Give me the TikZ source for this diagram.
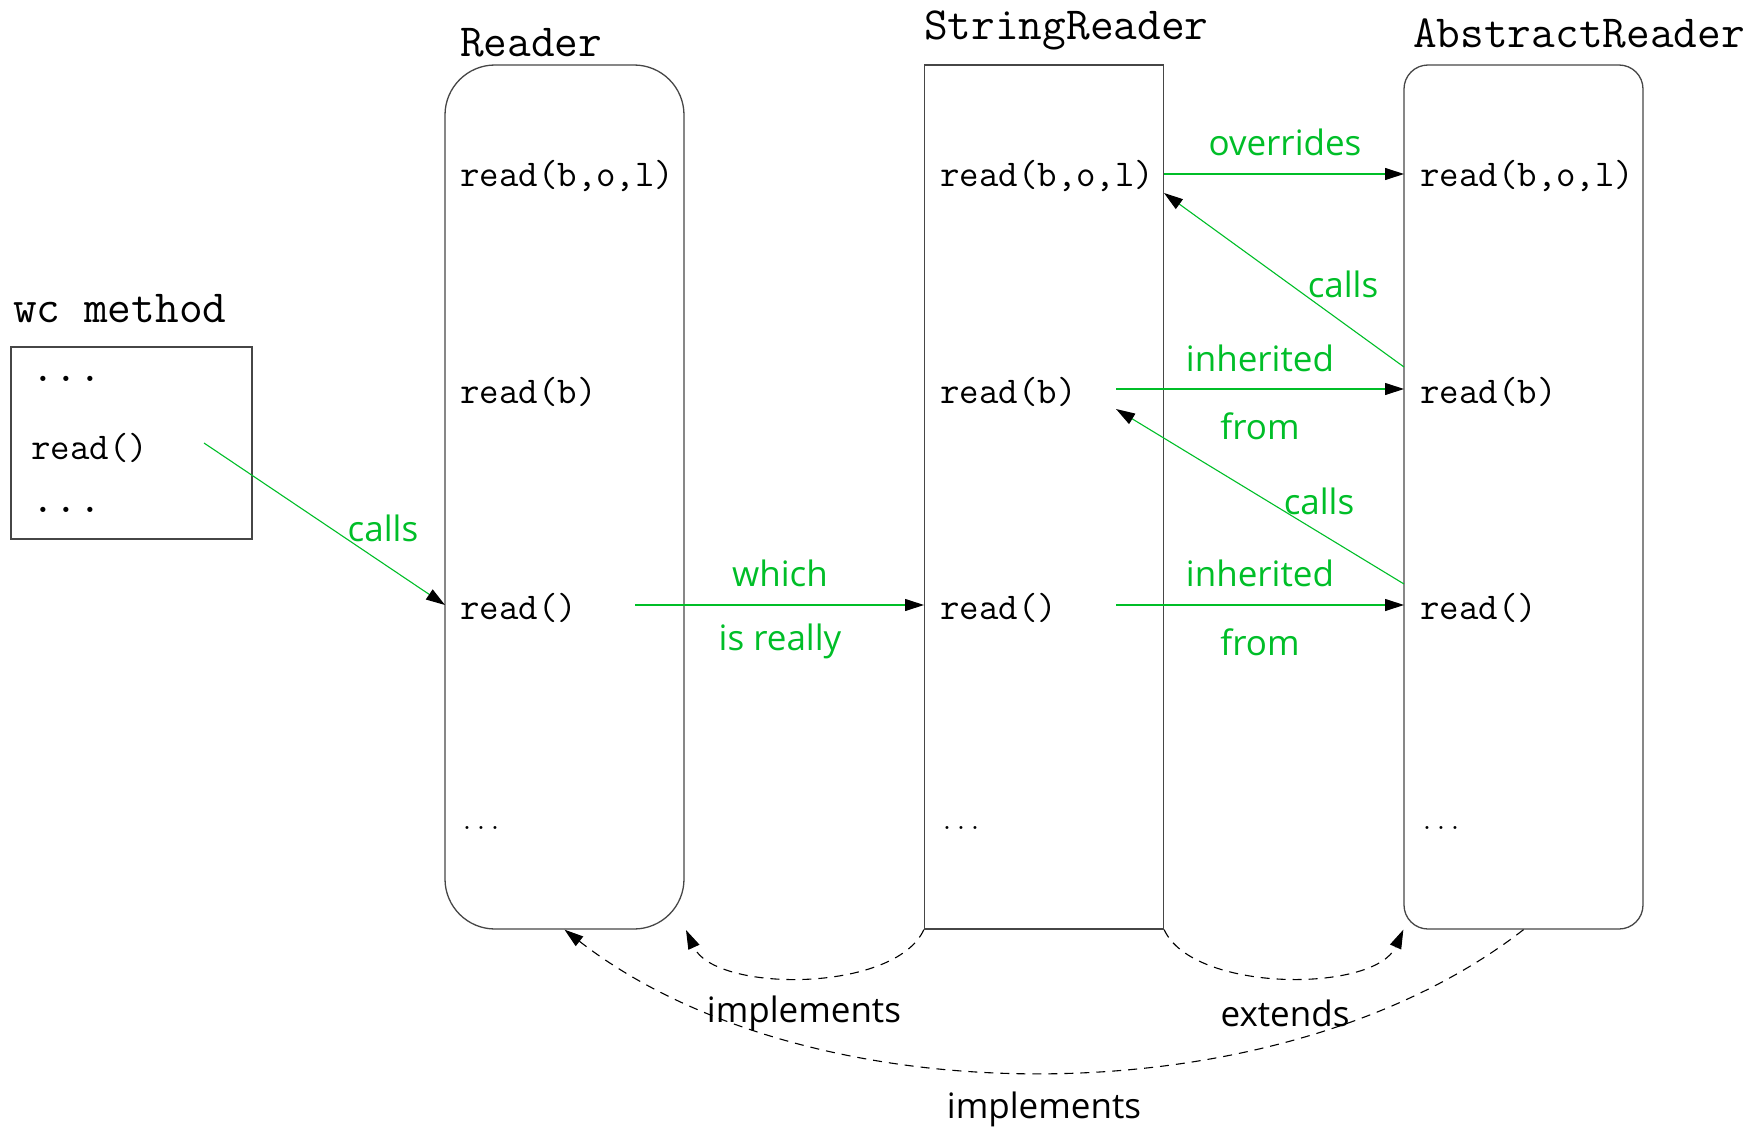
\documentclass[tikz,border=0pt]{standalone}
\usepackage{fontspec}
\setsansfont{Open Sans}
\usetikzlibrary{arrows.meta}
\definecolor{callgreen}{RGB}{0,190,40}
\definecolor{boxgray}{RGB}{70,70,70}

\begin{document}
\begin{tikzpicture}[x=1pt,y=-1pt,
  classbox/.style={draw=boxgray, line width=1.3pt, minimum width=239pt, minimum height=864pt, inner sep=0pt},
  titletext/.style={font=\fontsize{46}{52}\selectfont\ttfamily, anchor=base west, inner sep=0pt},
  codetext/.style={font=\fontsize{37.8}{44}\selectfont\ttfamily, anchor=west, inner sep=0pt},
  dotstext/.style={font=\fontsize{27}{30}\selectfont\ttfamily, anchor=base west, inner sep=0pt},
  greenlbl/.style={font=\fontsize{35}{40}\selectfont\sffamily, text=callgreen, inner sep=0pt},
  rellbl/.style={font=\fontsize{35}{40}\selectfont\sffamily, inner sep=0pt},
  headtip/.style={-{Triangle[length=19pt,width=12pt,black]}},
  msgarrow/.style={headtip, draw=callgreen, line width=1.1pt},
  deparrow/.style={headtip, dash pattern=on 9pt off 7pt, line width=1.1pt},
]
\useasboundingbox (0,0) rectangle (1756,1129);

% caller
\node[draw=boxgray, line width=1.3pt, minimum width=241pt, minimum height=192pt, inner sep=0pt] (wc) at (131.5,443) {};
\node[titletext] (wctitle) at (13,322) {wc method};
\node[titletext] (wcdots1) at (31,381) {...};
\node[codetext] (wcread) at (31,448) {read()};
\node[titletext] (wcdots2) at (31,512) {...};

% the three classes
\node[classbox, rounded corners=50pt] (rd) at (564.5,497) {};
\node[classbox] (sr) at (1044,497) {};
\node[classbox, rounded corners=24pt] (ab) at (1523.5,497) {};

\node[titletext] (rdtitle) at (460,57) {Reader};
\node[titletext] (srtitle) at (924,40) {StringReader};
\node[titletext] (abtitle) at (1413,48) {AbstractReader};

\node[codetext] (rdbol) at (460,176) {read(b,o,l)};
\node[codetext] (rdb)   at (460,392) {read(b)};
\node[codetext] (rdr)   at (460,608) {read()};
\node[dotstext] (rddots) at (460,829) {...};

\node[codetext] (srbol) at (940,176) {read(b,o,l)};
\node[codetext] (srb)   at (940,392) {read(b)};
\node[codetext] (srr)   at (940,608) {read()};
\node[dotstext] (srdots) at (940,829) {...};

\node[codetext] (abbol) at (1420,176) {read(b,o,l)};
\node[codetext] (abb)   at (1420,392) {read(b)};
\node[codetext] (abr)   at (1420,608) {read()};
\node[dotstext] (abdots) at (1420,829) {...};

% arrow end points
\coordinate (wcout)  at (204,443);
\coordinate (rdin)   at (445,605);
\coordinate (rdout)  at (635,605);
\coordinate (srin)   at (924,605);
\coordinate (srbolo) at (1164,174);
\coordinate (abboli) at (1404,174);
\coordinate (abbo)   at (1404,367);
\coordinate (srboli) at (1164,193);
\coordinate (srbo)   at (1116,389);
\coordinate (abbi)   at (1404,389);
\coordinate (abro)   at (1404,584);
\coordinate (srbi)   at (1116,409);
\coordinate (srro)   at (1116,605);
\coordinate (abri)   at (1404,605);
\coordinate (rdse)   at (686,930);

% calls
\draw[msgarrow] (wcout) -- (rdin);
\node[greenlbl] (lcalls1) at (383,528) {calls};
\draw[msgarrow] (rdout) -- (srin);
\node[greenlbl] (lwhich) at (780,573) {which};
\node[greenlbl] (lreally) at (780,641) {is really};
\draw[msgarrow] (srbolo) -- (abboli);
\node[greenlbl] (lover) at (1285,142) {overrides};
\draw[msgarrow] (abbo) -- (srboli);
\node[greenlbl] (lcalls2) at (1343,284) {calls};
\draw[msgarrow] (srbo) -- (abbi);
\node[greenlbl] (linh1) at (1260,358) {inherited};
\node[greenlbl] (lfrom1) at (1260,426) {from};
\draw[msgarrow] (abro) -- (srbi);
\node[greenlbl] (lcalls3) at (1319,501) {calls};
\draw[msgarrow] (srro) -- (abri);
\node[greenlbl] (linh2) at (1260,573) {inherited};
\node[greenlbl] (lfrom2) at (1260,642) {from};

% class relations
\draw[deparrow] (sr.south west) .. controls (895,993) and (715,993) .. (rdse);
\node[rellbl] (limpl1) at (804,1013) {implements};
\draw[deparrow] (sr.south east) .. controls (1193,993) and (1375,993) .. (ab.south west);
\node[rellbl] (lext) at (1285,1013) {extends};
\draw[deparrow] (ab.south) .. controls (1279,1120) and (809,1120) .. (rd.south);
\node[rellbl] (limpl2) at (1044,1109) {implements};
\end{tikzpicture}
\end{document}
